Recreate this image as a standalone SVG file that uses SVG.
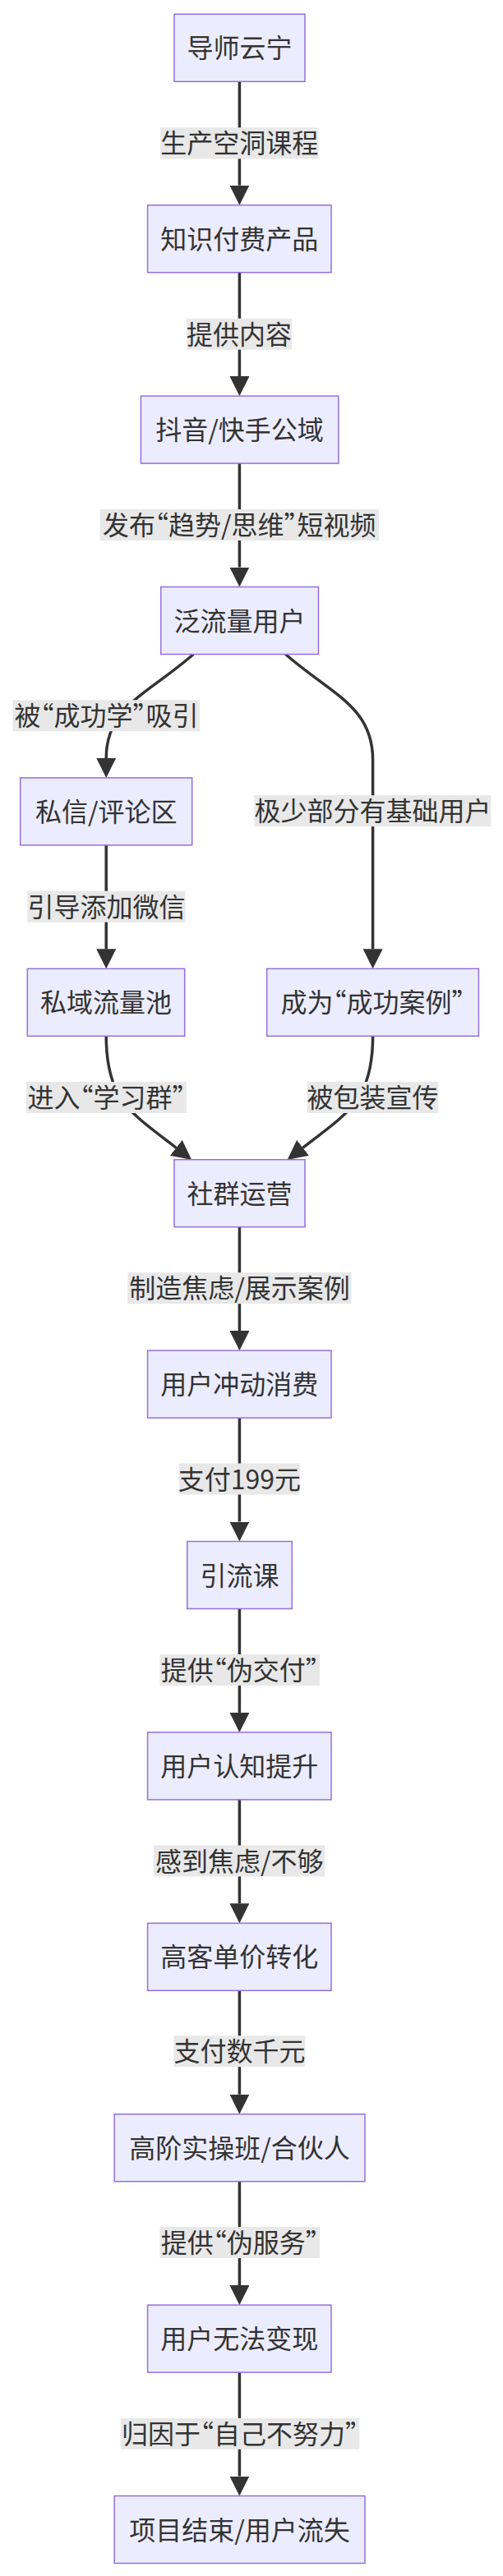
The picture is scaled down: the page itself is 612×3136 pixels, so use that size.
<svg xmlns="http://www.w3.org/2000/svg" width="612" height="3136" viewBox="0 0 612 3136">
<defs>
<style>
.node rect{fill:#ECECFF;stroke:#9370DB;stroke-width:1.5}
text{font-family:"Noto Sans CJK SC","Noto Sans",sans-serif;font-size:32px;fill:#333333;text-anchor:middle;font-feature-settings:"halt" 1}
.edge{fill:none;stroke:#333333;stroke-width:3.5}
.lbl rect{fill:#E8E8E8}
</style>
<marker id="arr" viewBox="0 0 10 10" refX="0" refY="5" markerUnits="userSpaceOnUse" markerWidth="24" markerHeight="24" orient="auto">
<path d="M0,0 L10,5 L0,10 z" fill="#333333"/>
</marker>
</defs>
<rect width="612" height="3136" fill="#ffffff"/>
<g id="connectors">
<path class="edge" d="M291.4 99.3 V225.7" marker-end="url(#arr)"/>
<path class="edge" d="M291.4 331.7 V458.1" marker-end="url(#arr)"/>
<path class="edge" d="M291.4 564.1 V690.5" marker-end="url(#arr)"/>
<path class="edge" d="M235.3 796.5 C180 845 129.2 860 129.2 922.9" marker-end="url(#arr)"/>
<path class="edge" d="M347.5 796.5 C402.8 845 453.6 860 453.6 925 L453.6 1155.3" marker-end="url(#arr)"/>
<path class="edge" d="M129.2 1028.9 V1155.3" marker-end="url(#arr)"/>
<path class="edge" d="M129.2 1261.3 C129.2 1340 160 1355 214.3 1397.3" marker-end="url(#arr)"/>
<path class="edge" d="M453.6 1261.3 C453.6 1340 422.8 1355 368.5 1397.3" marker-end="url(#arr)"/>
<path class="edge" d="M291.4 1493.7 V1620.1" marker-end="url(#arr)"/>
<path class="edge" d="M291.4 1726.1 V1852.5" marker-end="url(#arr)"/>
<path class="edge" d="M291.4 1958.5 V2084.9" marker-end="url(#arr)"/>
<path class="edge" d="M291.4 2190.9 V2317.3" marker-end="url(#arr)"/>
<path class="edge" d="M291.4 2423.3 V2549.7" marker-end="url(#arr)"/>
<path class="edge" d="M291.4 2655.7 V2782.1" marker-end="url(#arr)"/>
<path class="edge" d="M291.4 2888.1 V3014.5" marker-end="url(#arr)"/>
<g class="lbl">
<rect x="195" y="155.3" width="192.5" height="38"/><text x="291.3" y="186.3">生产空洞课程</text>
<rect x="227" y="387.7" width="128" height="38"/><text x="291" y="418.7">提供内容</text>
<rect x="121.6" y="620" width="339.4" height="38"/><text x="291.3" y="651">发布“趋势/思维”短视频</text>
<rect x="15.7" y="852.2" width="227.3" height="38"/><text x="129.4" y="883.2">被“成功学”吸引</text>
<rect x="309.4" y="968.2" width="288" height="38"/><text x="453.4" y="999.2">极少部分有基础用户</text>
<rect x="33.3" y="1084.7" width="192.2" height="38"/><text x="129.4" y="1115.7">引导添加微信</text>
<rect x="32" y="1317" width="194.7" height="38"/><text x="129.4" y="1348">进入“学习群”</text>
<rect x="373.7" y="1317" width="159.6" height="38"/><text x="453.5" y="1348">被包装宣传</text>
<rect x="155.3" y="1549.2" width="272.2" height="38"/><text x="291.4" y="1580.2">制造焦虑/展示案例</text>
<rect x="218" y="1781.5" width="146.7" height="38"/><text x="291.4" y="1812.5">支付199元</text>
<rect x="194.5" y="2014" width="194.5" height="38"/><text x="291.7" y="2045">提供“伪交付”</text>
<rect x="187" y="2246.5" width="208.3" height="38"/><text x="291.2" y="2277.5">感到焦虑/不够</text>
<rect x="211.4" y="2478.2" width="160" height="38"/><text x="291.4" y="2509.2">支付数千元</text>
<rect x="194.5" y="2711" width="194.5" height="38"/><text x="291.7" y="2742">提供“伪服务”</text>
<rect x="146.7" y="2943.8" width="290.6" height="38"/><text x="292" y="2974.8">归因于“自己不努力”</text>
</g>
</g>
<g id="A" class="node"><rect x="212" y="17.3" width="159" height="82"/><text x="291.5" y="70.3">导师云宁</text></g>
<g id="B" class="node"><rect x="179.6" y="249.7" width="223.4" height="82"/><text x="291.3" y="302.7">知识付费产品</text></g>
<g id="C" class="node"><rect x="171.4" y="482.1" width="240.4" height="82"/><text x="291.6" y="535.1">抖音/快手公域</text></g>
<g id="D" class="node"><rect x="195.7" y="714.5" width="191.8" height="82"/><text x="291.6" y="767.5">泛流量用户</text></g>
<g id="E" class="node"><rect x="24.7" y="946.9" width="209" height="82"/><text x="129.2" y="999.9">私信/评论区</text></g>
<g id="F" class="node"><rect x="33.3" y="1179.3" width="191.4" height="82"/><text x="129" y="1232.3">私域流量池</text></g>
<g id="G" class="node"><rect x="324.7" y="1179.3" width="257.7" height="82"/><text x="453.6" y="1232.3">成为“成功案例”</text></g>
<g id="H" class="node"><rect x="212" y="1411.7" width="159" height="82"/><text x="291.5" y="1464.7">社群运营</text></g>
<g id="I" class="node"><rect x="179.6" y="1644.1" width="223.4" height="82"/><text x="291.3" y="1697.1">用户冲动消费</text></g>
<g id="J" class="node"><rect x="227.8" y="1876.5" width="127.5" height="82"/><text x="291.6" y="1929.5">引流课</text></g>
<g id="K" class="node"><rect x="179.6" y="2108.9" width="223.4" height="82"/><text x="291.3" y="2161.9">用户认知提升</text></g>
<g id="L" class="node"><rect x="179.6" y="2341.3" width="223.4" height="82"/><text x="291.3" y="2394.3">高客单价转化</text></g>
<g id="M" class="node"><rect x="139.2" y="2573.7" width="304.8" height="82"/><text x="291.6" y="2626.7">高阶实操班/合伙人</text></g>
<g id="N" class="node"><rect x="179.6" y="2806.1" width="223.4" height="82"/><text x="291.3" y="2859.1">用户无法变现</text></g>
<g id="O" class="node"><rect x="139.2" y="3038.5" width="304.8" height="82"/><text x="291.6" y="3091.5">项目结束/用户流失</text></g>
</svg>
